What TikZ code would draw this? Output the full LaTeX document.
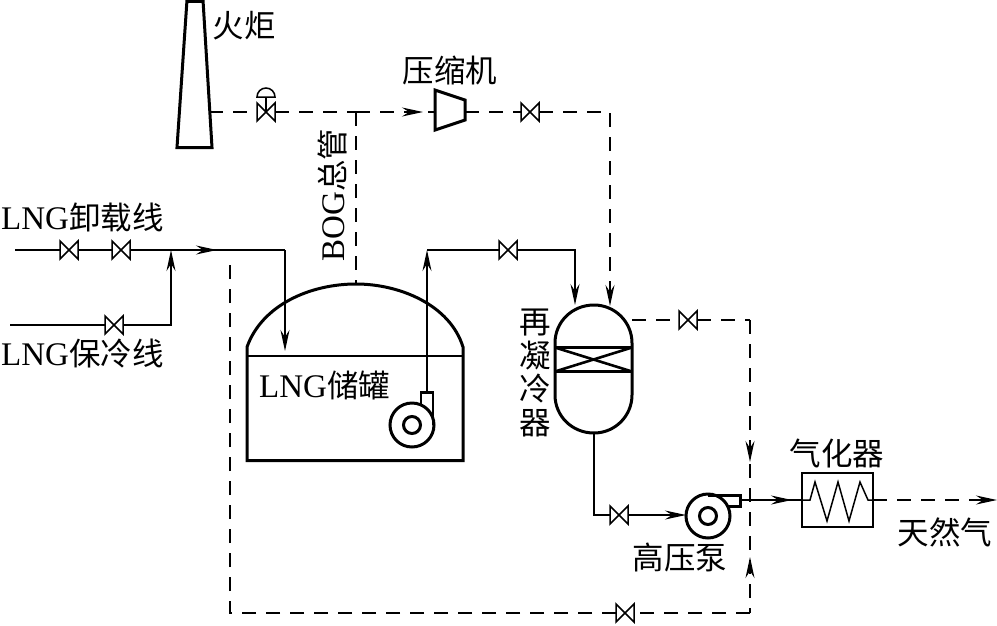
\documentclass[tikz,border=0pt]{standalone}
\usepackage{fontspec}
\setmainfont{Liberation Serif}
\newfontfamily\cjk{Noto Sans CJK SC}
\newcommand{\ltn}[1]{{\fontsize{33}{33.5}\selectfont #1}}
\usetikzlibrary{arrows.meta,decorations.markings}
\tikzset{
  x=1pt,y=-1pt,
  flow/.tip={Stealth[length=21pt,width=9pt,inset=7pt]},
  pipe/.style={line width=1.3pt},
  gasline/.style={line width=1.3pt,dash pattern=on 14pt off 10pt},
  vessel/.style={line width=3pt,line join=miter},
  thinbox/.style={line width=1.5pt},
  valvebox/.style={minimum width=18pt,minimum height=18pt,inner sep=0pt,outer sep=0pt},
  pumpbody/.style={circle,draw,line width=3pt,minimum size=44pt,inner sep=0pt},
  pumpeye/.style={circle,draw,line width=3pt,minimum size=17pt,inner sep=0pt},
  label/.style={inner sep=0pt,font=\fontsize{31.5}{33.5}\selectfont},
  midtip/.style={postaction={decorate,decoration={markings,mark=at position #1 with {\arrow{flow}}}}},
  twotips/.style={postaction={decorate,decoration={markings,mark=at position 142pt with {\arrow{flow}},mark=at position 237pt with {\arrowreversed{flow}}}}},
}
\newcommand{\valveat}[3]{%
  \node[valvebox] (#1) at (#2,#3) {};
  \draw[thinbox] (#1.north west) -- (#1.south east) -- (#1.north east) -- (#1.south west) -- cycle;}
\begin{document}
\begin{tikzpicture}
\useasboundingbox (0,0) rectangle (997,625);
% named points
\coordinate (flareout) at (209,112);
\coordinate (bogj) at (356,112);
\coordinate (tanktop) at (356,284);
\coordinate (compin) at (435,112);
\coordinate (compout) at (465,112);
\coordinate (compcorner) at (610,112);
\coordinate (recA) at (610,306);
\coordinate (feedA) at (15,250);
\coordinate (join) at (171,250);
\coordinate (feedcorner) at (285,250);
\coordinate (feedend) at (285,351);
\coordinate (feedB) at (10,325);
\coordinate (coolcorner) at (171,325);
\coordinate (bypassTop) at (230,255);
\coordinate (bypassCorner) at (230,613);
\coordinate (mainCorner) at (750,613);
\coordinate (mainTop) at (750,320);
\coordinate (recvent) at (632,320);
\coordinate (lpout) at (427,392);
\coordinate (lpup) at (427,250);
\coordinate (lpcorner) at (575,250);
\coordinate (recB) at (575,305);
\coordinate (recbot) at (594,433);
\coordinate (hpcorner) at (594,515);
\coordinate (hpin) at (686,515);
\coordinate (hpout) at (741,500);
\coordinate (vapin) at (802,500);
\coordinate (vapout) at (873,500);
\coordinate (ngend) at (997,500);
% valves
\valveat{vcv}{266}{112}
\valveat{vcomp}{530}{112}
\valveat{va}{69}{250}
\valveat{vb}{121}{250}
\valveat{vc}{114}{325}
\valveat{vlp}{508}{250}
\valveat{vrec}{688}{320}
\valveat{vhp}{619}{515}
\valveat{vby}{625}{613}
% control valve actuator
\draw[thinbox] (vcv.center) -- (266,97);
\draw[thinbox] (257,97) .. controls (257,92) and (261,88) .. (266,88) .. controls (271,88) and (275,92) .. (275,97) -- cycle;
% flare
\draw[vessel] (187,0) -- (177,147.5) -- (212,147.5) -- (203,0);
\draw[vessel] (187,1) -- (203,1);
% compressor
\draw[vessel] (435,90) -- (465,100) -- (465,120) -- (435,130) -- cycle;
% tank
\draw[vessel] (247,347) .. controls (262,305) and (310,284) .. (356,284)
  .. controls (400,284) and (450,305) .. (463,347) -- (463,460.5) -- (247,460.5) -- cycle;
\draw[line width=2.6pt] (247,356) -- (463,356);
% LP pump
\node[pumpbody] (lp) at (412,425) {};
\node[pumpeye] (lpeye) at (412,425) {};
\draw[line width=2.4pt] (421,405) -- (421,392.5) -- (433,392.5) -- (433,425);
% recondenser
\draw[vessel] (555,343) .. controls (555,322) and (572,305) .. (594,305)
  .. controls (615,305) and (632,322) .. (632,343) -- (632,395)
  .. controls (632,416) and (615,433) .. (594,433)
  .. controls (572,433) and (555,416) .. (555,395) -- cycle;
\draw[line width=3.4pt] (555,347.5) -- (632,347.5);
\draw[line width=3.4pt] (555,371.5) -- (632,371.5);
\draw[line width=2.6pt] (555,347.5) -- (632,371.5);
\draw[line width=2.6pt] (632,347.5) -- (555,371.5);
% HP pump
\node[pumpbody] (hp) at (708,516) {};
\node[pumpeye] (hpeye) at (708,516) {};
\draw[line width=3pt] (708,495) -- (740,495) -- (740,506) -- (727,506);
% vaporizer
\node[draw,thinbox,minimum width=71pt,minimum height=54pt,inner sep=0pt] (vap) at (837.5,500) {};
\draw[line width=1.5pt,line join=miter] (vapin) -- (810,500) -- (815,482) -- (827,521) -- (838,482) -- (849,521) -- (860,482) -- (868,500) -- (vapout);
% gas lines
\draw[gasline] (flareout) -- (vcv);
\draw[gasline] (vcv) -- (bogj);
\draw[gasline,midtip=67pt] (bogj) -- (compin);
\draw[gasline] (bogj) -- (tanktop);
\draw[gasline] (compout) -- (vcomp);
\draw[gasline,-{flow}] (vcomp) -- (compcorner) -- (recA);
\draw[gasline] (recvent) -- (vrec);
\draw[gasline] (vrec) -- (mainTop);
\draw[gasline,twotips] (mainTop) -- (mainCorner);
\draw[gasline] (mainCorner) -- (vby);
\draw[gasline] (vby) -- (bypassCorner) -- (bypassTop);
\draw[gasline,-{flow}] (vapout) -- (ngend);
% liquid lines
\draw[pipe] (feedA) -- (va);
\draw[pipe] (va) -- (vb);
\draw[pipe] (vb) -- (join);
\draw[pipe,midtip=46pt] (join) -- (feedcorner);
\draw[pipe,-{flow}] (feedcorner) -- (feedend);
\draw[pipe] (feedB) -- (vc);
\draw[pipe,-{flow}] (vc) -- (coolcorner) -- (join);
\draw[pipe,-{flow}] (lpout) -- (lpup);
\draw[pipe] (lpup) -- (vlp);
\draw[pipe,-{flow}] (vlp) -- (lpcorner) -- (recB);
\draw[pipe] (recbot) -- (hpcorner) -- (vhp);
\draw[pipe,-{flow}] (vhp) -- (hpin);
\draw[pipe,midtip=51pt] (hpout) -- (vapin);
% labels
\node[label] (lflare) at (244,26) {{\cjk 火炬}};
\node[label] (lcomp) at (450,70) {{\cjk 压缩机}};
\node[label,rotate=90] (lbog) at (332,195) {\ltn{BOG}{\cjk 总管}};
\node[label,anchor=west] (lunload) at (1,217) {\ltn{LNG}{\cjk 卸载线}};
\node[label,anchor=west] (lcool) at (1,354) {\ltn{LNG}{\cjk 保冷线}};
\node[label,anchor=west] (ltank) at (259,385) {\ltn{LNG}{\cjk 储罐}};
\node[label,align=center] (lrec) at (535,373) {{\cjk 再}\\{\cjk 凝}\\{\cjk 冷}\\{\cjk 器}};
\node[label] (lvap) at (837,453) {{\cjk 气化器}};
\node[label] (lhp) at (680,557) {{\cjk 高压泵}};
\node[label] (lng) at (945,532) {{\cjk 天然气}};
\end{tikzpicture}
\end{document}
